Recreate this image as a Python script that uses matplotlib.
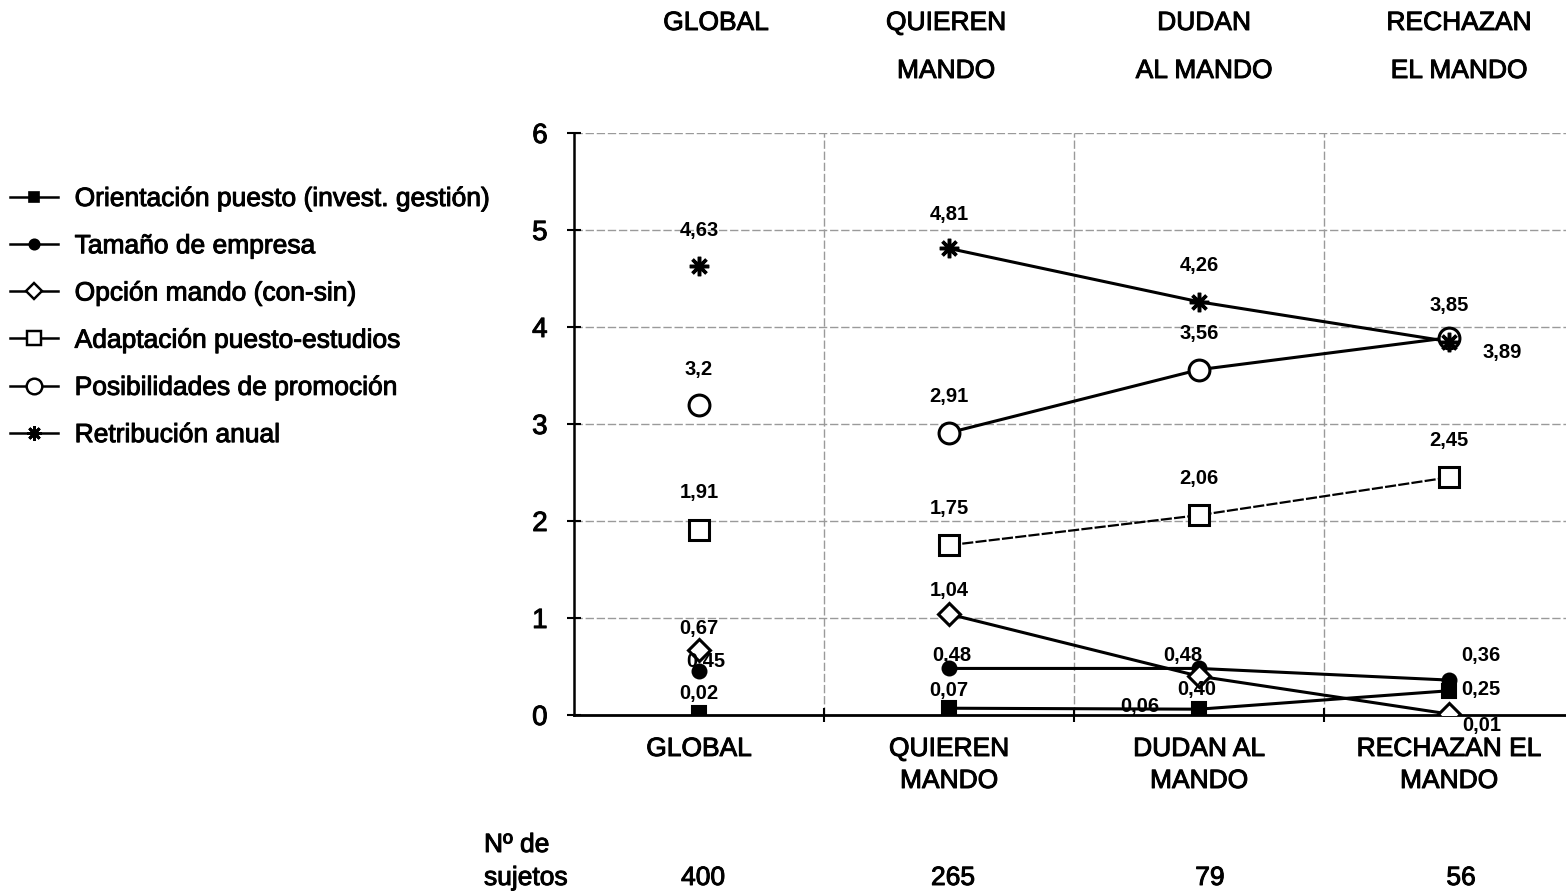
import matplotlib
matplotlib.use("Agg")
import matplotlib.pyplot as plt
import matplotlib.transforms as mtransforms
import matplotlib.patheffects as pe
from matplotlib.lines import Line2D

plt.rcParams['font.family'] = ['Liberation Sans', 'DejaVu Sans']

# ---------------- data ----------------
categories = ["GLOBAL", "QUIEREN MANDO", "DUDAN AL MANDO", "RECHAZAN EL MANDO"]
header_line1 = ["GLOBAL", "QUIEREN", "DUDAN", "RECHAZAN"]
header_line2 = ["", "MANDO", "AL MANDO", "EL MANDO"]
bottom_line1 = ["GLOBAL", "QUIEREN", "DUDAN AL", "RECHAZAN EL"]
bottom_line2 = ["", "MANDO", "MANDO", "MANDO"]
n_sujetos = [400, 265, 79, 56]

series_names = [
    "Orientación puesto (invest. gestión)",
    "Tamaño de empresa",
    "Opción mando (con-sin)",
    "Adaptación puesto-estudios",
    "Posibilidades de promoción",
    "Retribución anual",
]
orientacion = [0.02, 0.07, 0.06, 0.25]
tamano = [0.45, 0.48, 0.48, 0.36]
opcion = [0.67, 1.04, 0.40, 0.01]
adaptacion = [1.91, 1.75, 2.06, 2.45]
posibilidades = [3.20, 2.91, 3.56, 3.89]
retribucion = [4.63, 4.81, 4.26, 3.85]

orientacion_lbl = ["0,02", "0,07", "0,06", "0,25"]
tamano_lbl = ["0,45", "0,48", "0,48", "0,36"]
opcion_lbl = ["0,67", "1,04", "0,40", "0,01"]
adaptacion_lbl = ["1,91", "1,75", "2,06", "2,45"]
posibilidades_lbl = ["3,2", "2,91", "3,56", "3,89"]
retribucion_lbl = ["4,63", "4,81", "4,26", "3,85"]

yticks = [0, 1, 2, 3, 4, 5, 6]

# ---------------- styles ----------------
series = [orientacion, tamano, opcion, adaptacion, posibilidades, retribucion]
labels = [orientacion_lbl, tamano_lbl, opcion_lbl, adaptacion_lbl, posibilidades_lbl, retribucion_lbl]
styles = [
    dict(marker='s', ms=10, mfc='black', mec='black', mew=1.5, ls='-', lw=2.2),
    dict(marker='o', ms=10, mfc='black', mec='black', mew=1.5, ls='-', lw=2.2),
    dict(marker='D', ms=11, mfc='white', mec='black', mew=2.2, ls='-', lw=2.2),
    dict(marker='s', ms=14, mfc='white', mec='black', mew=2.2, ls=(0, (5, 1)), lw=1.6),
    dict(marker='o', ms=15, mfc='white', mec='black', mew=2.2, ls='-', lw=2.2),
    dict(marker=(8, 2, 0), ms=14, mfc='black', mec='black', mew=2.5, ls='-', lw=2.2),
]
# label offsets in pixels (dx, dy) for each series / category
offsets = [
    [(0, 20), (0, 18), (-59, 3), (32, 1)],
    [(7, 10), (3, 13), (-16, 13), (32, 25)],
    [(0, 22), (0, 24), (-2, -13), (33, -11)],
    [(0, 37), (0, 37), (0, 37), (0, 37)],
    [(0, 35), (0, 36), (0, 36), (53, -15)],
    [(0, 35), (0, 34), (0, 36), (0, 36)],
]
header_dx = [17, -3, 5, 10]
count_dx = [4, 4, 11, 12]
heavy = [pe.withStroke(linewidth=0.7, foreground='black')]

fig = plt.figure(figsize=(15.66, 8.94), dpi=100)
ax = fig.add_axes([574/1566, 1-715/894, 1-574/1566, (715-133)/894])

x = list(range(len(categories)))
for vals, st in zip(series, styles):
    # connecting line only among the three groups (not GLOBAL)
    ax.plot(x[1:], vals[1:], color='black', ls=st['ls'], lw=st['lw'], zorder=3)
    ax.plot(x, vals, ls='none', color='black', marker=st['marker'], ms=st['ms'],
            mfc=st['mfc'], mec=st['mec'], mew=st['mew'], zorder=4)

for vals, lbls, offs in zip(series, labels, offsets):
    for xi, v, t, (dx, dy) in zip(x, vals, lbls, offs):
        ax.annotate(t, (xi, v), xytext=(dx, dy), textcoords='offset pixels',
                    ha='center', va='center', fontsize=14.5, fontweight='bold', zorder=5)

ax.set_xlim(-0.5, (1566-574)/250 - 0.5)
ax.set_ylim(0, 6)
ax.set_yticks(yticks)
ax.set_yticklabels([str(t) for t in yticks], fontsize=20)
for t in ax.get_yticklabels():
    t.set_path_effects(heavy)
ax.tick_params(axis='y', direction='inout', length=10, width=1.5, pad=14)
ax.set_xticks([])
ax.set_xticks([0.5, 1.5, 2.5], minor=True)
ax.tick_params(axis='x', which='minor', direction='inout', length=10, width=1.5, labelbottom=False)

for s in ['top', 'right']:
    ax.spines[s].set_visible(False)
ax.spines['left'].set_linewidth(1.8)
ax.spines['bottom'].set_linewidth(2.0)

for yv in yticks[1:]:
    ax.axhline(yv, color='#9a9a9a', lw=1.0, ls=(0, (6, 2)), zorder=1)
for xv in [0.5, 1.5, 2.5]:
    ax.axvline(xv, color='#9a9a9a', lw=1.0, ls=(0, (6, 2)), zorder=1)

trans_top = mtransforms.blended_transform_factory(ax.transData, fig.transFigure)
fs = 19

# headers on top
for xi, l1, l2, dx in zip(x, header_line1, header_line2, header_dx):
    off = mtransforms.offset_copy(trans_top, fig=fig, x=dx, units='dots')
    ax.text(xi, 1-23/894, l1, transform=off, ha='center', va='center', fontsize=fs, path_effects=heavy)
    if l2:
        ax.text(xi, 1-71/894, l2, transform=off, ha='center', va='center', fontsize=fs, path_effects=heavy)

# bottom category labels
for xi, l1, l2 in zip(x, bottom_line1, bottom_line2):
    ax.text(xi, 1-749/894, l1, transform=trans_top, ha='center', va='center', fontsize=fs, path_effects=heavy)
    if l2:
        ax.text(xi, 1-781/894, l2, transform=trans_top, ha='center', va='center', fontsize=fs, path_effects=heavy)

# number of subjects
fig.text(484/1566, 1-845/894, "Nº de", ha='left', va='center', fontsize=fs, path_effects=heavy)
fig.text(484/1566, 1-878/894, "sujetos", ha='left', va='center', fontsize=fs, path_effects=heavy)
for xi, n, dx in zip(x, n_sujetos, count_dx):
    off = mtransforms.offset_copy(trans_top, fig=fig, x=dx, units='dots')
    ax.text(xi, 1-878/894, str(n), transform=off, ha='center', va='center', fontsize=fs, path_effects=heavy)

# legend
handles = []
for name, st in zip(series_names, styles):
    handles.append(Line2D([], [], color='black', lw=1.8, ls='-', marker=st['marker'],
                          ms=st['ms']*0.75, mfc=st['mfc'], mec=st['mec'], mew=st['mew']*0.8))
leg = fig.legend(handles, series_names, loc='upper left', bbox_to_anchor=(10/1566, 1-187/894),
                 frameon=False, fontsize=fs, handlelength=1.8, handletextpad=0.65,
                 labelspacing=0.88, borderpad=0, borderaxespad=0)
for t in leg.get_texts():
    t.set_path_effects(heavy)

fig.savefig("out.png", dpi=100, facecolor='white')
